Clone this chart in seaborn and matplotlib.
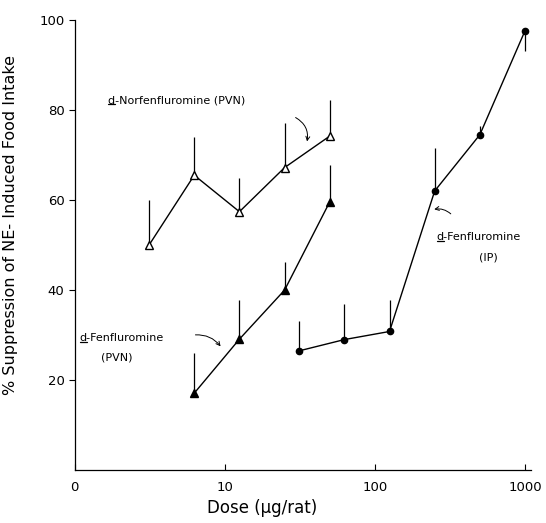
import matplotlib
matplotlib.use("Agg")
import matplotlib.pyplot as plt
from matplotlib.patches import FancyArrowPatch
from matplotlib.lines import Line2D
import seaborn as sns
import pandas as pd

sns.set_style("ticks", {"text.color": "black", "axes.edgecolor": "black",
                        "axes.labelcolor": "black", "xtick.color": "black",
                        "ytick.color": "black"})
plt.rcParams["font.family"] = ["DejaVu Sans"]

# d-Norfenfluramine (PVN), open triangles
nor_dose = [3.125, 6.25, 12.5, 25, 50]
nor_val = [50.0, 65.5, 57.4, 67.2, 74.2]
nor_err = [10.0, 8.6, 7.5, 10.0, 8.0]

# d-Fenfluramine (PVN), filled triangles
fen_pvn_dose = [6.25, 12.5, 25, 50]
fen_pvn_val = [17.1, 29.1, 40.0, 59.6]
fen_pvn_err = [9.0, 8.7, 6.3, 8.2]

# d-Fenfluramine (IP), filled circles
fen_ip_dose = [31.25, 62.5, 125, 250, 500, 1000]
fen_ip_val = [26.5, 29.0, 30.8, 62.0, 74.5, 97.6]
fen_ip_err_up = [6.6, 8.0, 7.0, 9.5, 2.0, 0.0]
fen_ip_err_down = [0.0, 0.0, 0.0, 0.0, 0.0, 4.5]

x_ticks = [1, 10, 100, 1000]
x_tick_labels = ["0", "10", "100", "1000"]
y_ticks = [20, 40, 60, 80, 100]

fig = plt.figure(figsize=(5.46, 5.23), dpi=100)
ax = fig.add_axes([0.137, 0.101, 0.836, 0.861])

series = [
    (nor_dose, nor_val, "^", "white", 6),
    (fen_pvn_dose, fen_pvn_val, "^", "black", 6),
    (fen_ip_dose, fen_ip_val, "o", "black", 4.5),
]
for dose, val, mk, fc, ms in series:
    df = pd.DataFrame({"dose": dose, "val": val})
    sns.lineplot(data=df, x="dose", y="val", ax=ax, color="black", lw=1.0,
                 marker=mk, markersize=ms, markerfacecolor=fc,
                 markeredgecolor="black", markeredgewidth=1.0, zorder=3)

# one-sided error bars
ax.vlines(nor_dose, nor_val, [v + e for v, e in zip(nor_val, nor_err)],
          color="black", lw=0.9, zorder=2)
ax.vlines(fen_pvn_dose, fen_pvn_val, [v + e for v, e in zip(fen_pvn_val, fen_pvn_err)],
          color="black", lw=0.9, zorder=2)
ax.vlines(fen_ip_dose, [v - d for v, d in zip(fen_ip_val, fen_ip_err_down)],
          [v + e for v, e in zip(fen_ip_val, fen_ip_err_up)],
          color="black", lw=0.9, zorder=2)

ax.set_xscale("log")
ax.set_xlim(1, 1100)
ax.set_ylim(0, 100)
ax.set_xticks(x_ticks)
ax.set_xticklabels(x_tick_labels)
ax.xaxis.set_minor_locator(matplotlib.ticker.NullLocator())
ax.set_yticks(y_ticks)
ax.tick_params(axis="x", direction="in", length=4, labelsize=9.5, pad=8, width=0.8)
ax.tick_params(axis="y", direction="out", length=4, labelsize=9.5, width=0.8)
sns.despine(ax=ax)
for s in ["left", "bottom"]:
    ax.spines[s].set_linewidth(0.9)

ax.set_xlabel("Dose (\u03bcg/rat)", fontsize=12)
ax.xaxis.set_label_coords(0.41, -0.065)
ax.set_ylabel("% Suppression of NE- Induced Food Intake", fontsize=11.5)
ax.yaxis.set_label_coords(-0.125, 0.545)

fs = 8
fig.canvas.draw()
renderer = fig.canvas.get_renderer()


def label(x, y, txt):
    t = ax.text(x, y, txt, fontsize=fs, ha="left", va="center")
    # underline the leading "d"
    probe = ax.text(x, y, "d", fontsize=fs, ha="left", va="center")
    bb = probe.get_window_extent(renderer)
    probe.remove()
    inv = fig.transFigure.inverted()
    (x0, y0), (x1, _) = inv.transform([(bb.x0, bb.y0 + 1), (bb.x1, bb.y0 + 1)])
    fig.add_artist(Line2D([x0, x1], [y0, y0], color="black", lw=0.9))
    return t


def arrow(start, end, rad):
    ax.add_patch(FancyArrowPatch(start, end, arrowstyle="->", mutation_scale=7,
                                 lw=0.7, color="black",
                                 connectionstyle=f"arc3,rad={rad}"))


label(1.66, 82.2, "d-Norfenfluromine (PVN)")
arrow((28.5, 78.6), (35, 72.4), -0.4)

label(1.08, 29.3, "d-Fenfluromine")
ax.text(1.9, 25.0, "(PVN)", fontsize=fs, ha="center", va="center")
arrow((6.1, 30.0), (9.6, 27.0), -0.3)

label(258, 51.8, "d-Fenfluromine")
ax.text(567, 47.3, "(IP)", fontsize=fs, ha="center", va="center")
arrow((330, 56.5), (238, 57.8), 0.3)

fig.savefig("out.png", dpi=100)
